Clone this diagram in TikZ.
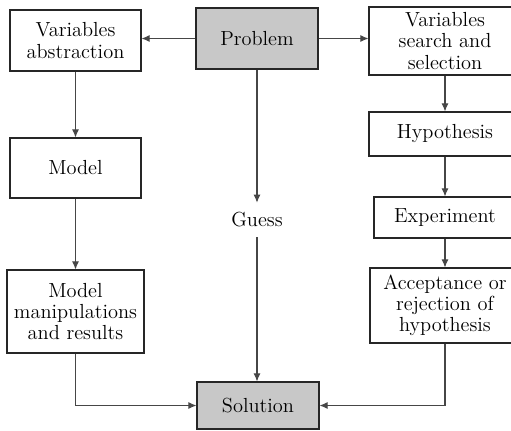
\documentclass[tikz,border=0pt]{standalone}
\usepackage{fontspec}
\usepackage{tikz}
\usetikzlibrary{arrows.meta}
\definecolor{boxgray}{RGB}{200,200,200}
\definecolor{linegray}{RGB}{70,70,70}

\begin{document}
\begin{tikzpicture}%
        [x=0.02cm, y=-0.02cm,
        font=\fontsize{11.6}{12}\selectfont,
        stage/.style={draw=black!85, line width=0.6pt, align=center, inner sep=2pt},
        keystage/.style={stage, fill=boxgray},
        flow/.style={draw=linegray, line width=0.6pt, -{Latex[length=4.6pt,width=4pt]}}]
    \useasboundingbox (0,0) rectangle (511,430);
    %
    %% Middle column
    \node[keystage, minimum width=2.44cm, minimum height=1.22cm] (problem) at (257,38.5) {Problem};
    \node[inner sep=0pt, minimum height=0.68cm] (guess) at (257,220) {Guess};
    \node[keystage, minimum width=2.44cm, minimum height=0.94cm] (solution) at (258,405.5) {Solution};
    %
    %% Left column
    \node[stage, minimum width=2.62cm, minimum height=1.22cm] (abstraction) at (75.5,40.5) {Variables\\abstraction};
    \node[stage, minimum width=2.62cm, minimum height=1.2cm] (model) at (75.5,168) {Model};
    \node[stage, minimum width=2.74cm, minimum height=1.66cm] (manip) at (75.5,311.5) {Model\\manipulations\\and results};
    %
    %% Right column
    \node[stage, minimum width=3.04cm, minimum height=1.36cm] (search) at (445,41) {Variables\\search and\\selection};
    \node[stage, minimum width=3.04cm, minimum height=0.88cm] (hypothesis) at (445,134) {Hypothesis};
    \node[stage, minimum width=2.84cm, minimum height=0.82cm] (experiment) at (445,217.5) {Experiment};
    \node[stage, minimum width=3.0cm, minimum height=1.5cm] (acceptance) at (445,305.5) {Acceptance or\\rejection of\\hypothesis};
    %
    %% Connectors
    \draw[flow] (problem.west) -- (problem.west -| abstraction.east);
    \draw[flow] (problem.east) -- (problem.east -| search.west);
    \draw[flow] (problem) -- (guess);
    \draw[flow] (guess) -- (guess |- solution.north);
    \draw[flow] (abstraction) -- (model);
    \draw[flow] (model) -- (manip);
    \draw[flow] (manip.south) |- (solution.west);
    \draw[flow] (search) -- (hypothesis);
    \draw[flow] (hypothesis) -- (experiment);
    \draw[flow] (experiment) -- (acceptance);
    \draw[flow] (acceptance.south) |- (solution.east);
    %%
\end{tikzpicture}
\end{document}
